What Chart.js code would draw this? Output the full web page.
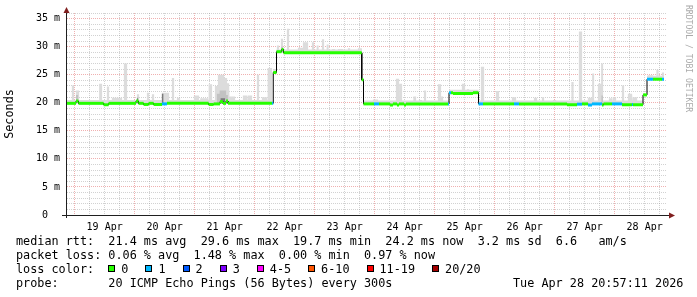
<!DOCTYPE html>
<html>
<head>
<meta charset="utf-8">
<script src="https://cdn.jsdelivr.net/npm/chart.js@4.4.1/dist/chart.umd.min.js"></script>
<style>
  html, body { margin: 0; padding: 0; background: #fff; }
  #wrap { position: relative; width: 697px; height: 297px; overflow: hidden; }
  #wrap canvas { position: absolute; left: 0; top: 0; }
  .row { position: absolute; left: 16px; font: 11.8px "DejaVu Sans Mono", monospace; line-height: 14px; white-space: pre; color: #000; }
  .sw { display: inline-block; width: 7px; height: 7px; box-sizing: border-box; border: 1px solid #000; margin-right: 6px; vertical-align: 1px; }
  .it { margin-right: 17px; }
  #credit { position: absolute; left: 684px; top: 5px; writing-mode: vertical-rl; font: 8.1px "DejaVu Sans Mono", monospace; line-height: 9px; color: #aaa; white-space: pre; }
</style>
</head>
<body>
<div id="wrap">
  <canvas id="chart" width="697" height="297"></canvas>
  <div class="row" id="rowRtt" style="top:234px"></div>
  <div class="row" id="rowLoss" style="top:248px"></div>
  <div class="row" id="rowColor" style="top:262px"></div>
  <div class="row" id="rowProbe" style="top:276px"></div>
  <div class="row" id="stamp" style="top:276px; left:513px"></div>
  <div id="credit">RRDTOOL / TOBI OETIKER</div>
</div>
<script>
// ---- data (time = hours since 18 Apr 00:00, values in ms) ----
const timeStart = 20.95;
const timeEnd = 260.95;
const dayLabels = ['19 Apr', '20 Apr', '21 Apr', '22 Apr', '23 Apr', '24 Apr', '25 Apr', '26 Apr', '27 Apr', '28 Apr'];

// median rtt: [from, to, ms, lost pings]
const medianSteps = [
  [20.95, 24.55, 19.9, 0], [24.55, 25.55, 20.3, 0], [25.55, 35.6, 19.9, 0],
  [35.6, 37.6, 19.65, 0], [37.6, 48.55, 19.9, 0], [48.55, 49.55, 20.3, 0],
  [49.55, 51.6, 19.9, 0], [51.6, 53.6, 19.7, 0], [53.6, 55.6, 19.9, 0],
  [55.6, 58.95, 19.7, 0], [58.95, 60.95, 19.8, 1], [60.95, 77.6, 19.9, 0],
  [77.6, 79.6, 19.7, 0], [79.6, 82.15, 19.8, 0], [82.15, 83.35, 20.2, 0],
  [83.35, 84.55, 19.9, 0], [84.55, 85.35, 20.3, 0], [85.35, 102.95, 19.9, 0],
  [102.95, 103.45, 19.9, 1], [103.45, 104.75, 25.4, 0], [104.75, 106.8, 29.1, 0],
  [106.8, 107.55, 29.5, 0], [107.55, 138.85, 28.9, 0], [138.85, 139.55, 24.1, 0],
  [139.55, 143.75, 19.8, 0], [143.75, 145.75, 19.8, 1], [145.75, 150.15, 19.8, 0],
  [150.15, 151.35, 19.6, 0], [151.35, 152.95, 19.8, 0], [152.95, 153.75, 19.6, 0],
  [153.75, 155.75, 19.8, 0], [155.75, 156.55, 19.6, 0], [156.55, 173.35, 19.8, 0],
  [173.35, 173.75, 19.8, 1], [173.75, 174.55, 21.8, 1], [174.55, 175.35, 21.8, 0],
  [175.35, 183.35, 21.65, 0], [183.35, 185.55, 21.8, 0], [185.55, 187.35, 19.8, 1],
  [187.35, 199.75, 19.8, 0], [199.75, 201.75, 19.8, 1], [201.75, 220.95, 19.8, 0],
  [220.95, 224.95, 19.65, 0], [224.95, 226.95, 19.75, 1], [226.95, 229.35, 19.8, 0],
  [229.35, 230.95, 19.6, 1], [230.95, 234.95, 19.8, 1], [234.95, 235.55, 19.6, 0],
  [235.55, 238.95, 19.8, 0], [238.95, 242.95, 19.8, 1], [242.95, 246.95, 19.65, 0],
  [246.95, 247.35, 19.7, 1], [247.35, 251.35, 19.65, 0], [251.35, 252.95, 21.4, 0],
  [252.95, 255.35, 24.2, 1], [255.35, 258.95, 24.2, 0], [258.95, 259.75, 24.2, 1]
];

// smoke: [from, to, low ms, high ms]
const smokeBand = [
  [20.95, 102.95, 19.9, 20.5], [103.45, 104.75, 25.4, 26.0], [104.75, 138.85, 28.9, 29.5],
  [139.55, 173.75, 19.8, 20.4], [173.75, 185.55, 21.7, 22.3], [185.55, 251.35, 19.8, 20.4],
  [252.95, 259.75, 24.2, 24.8]
];
const smokeLight = [
  [22.8, 23.8, 19.9, 23.1], [24.5, 25.8, 19.9, 22.2], [33.8, 35.0, 19.9, 23.4],
  [36.9, 37.8, 19.9, 22.9], [38.9, 43.0, 19.9, 20.9], [43.7, 45.0, 19.9, 27.0],
  [48.9, 49.8, 19.9, 21.5], [52.9, 53.8, 19.9, 21.8], [54.9, 55.8, 19.9, 21.5],
  [58.9, 61.8, 19.9, 21.8], [62.9, 63.8, 19.9, 24.4], [64.9, 66.2, 19.9, 20.9],
  [71.7, 73.8, 19.9, 21.3], [74.2, 77.4, 19.9, 20.8], [77.7, 79.0, 19.9, 23.3],
  [80.1, 81.3, 19.9, 23.0], [81.3, 83.8, 19.9, 25.0], [83.8, 85.0, 19.9, 24.4],
  [85.0, 85.8, 19.9, 23.5], [86.1, 88.2, 19.9, 21.1], [91.3, 93.0, 19.9, 21.3],
  [93.3, 95.0, 19.9, 21.3], [96.9, 97.8, 19.9, 25.0], [98.9, 101.0, 19.9, 21.0],
  [101.3, 103.0, 19.9, 26.2], [104.9, 105.8, 28.9, 30.2], [106.5, 107.4, 28.9, 31.4],
  [108.9, 109.8, 28.9, 33.2], [113.3, 115.3, 28.9, 29.8], [115.3, 117.4, 28.9, 30.8],
  [118.9, 119.8, 28.9, 30.8], [120.8, 121.6, 28.9, 30.2], [122.9, 123.8, 28.9, 31.3],
  [124.8, 125.6, 28.9, 30.4], [126.9, 128.2, 28.9, 29.6], [129.3, 131.4, 28.9, 29.6],
  [133.3, 134.2, 28.9, 29.7], [137.3, 138.9, 28.9, 29.7], [143.3, 145.4, 19.8, 20.6],
  [152.5, 153.8, 19.8, 24.3], [153.9, 155.0, 19.8, 23.4], [159.5, 160.6, 19.8, 21.1],
  [161.7, 163.0, 19.8, 20.5], [163.7, 164.6, 19.8, 22.2], [169.3, 170.6, 19.8, 23.3],
  [170.6, 171.4, 19.8, 21.1], [178.9, 180.2, 21.7, 23.4], [180.9, 181.8, 21.7, 22.4],
  [186.5, 187.8, 19.8, 26.4], [192.5, 193.8, 19.8, 22.1], [198.9, 200.6, 19.8, 21.0],
  [207.7, 209.0, 19.8, 20.9], [210.9, 211.8, 19.8, 21.0], [215.3, 216.6, 19.8, 20.5],
  [222.7, 223.6, 19.8, 23.7], [225.7, 227.0, 19.8, 32.7], [229.3, 231.0, 19.8, 20.9],
  [231.0, 231.8, 19.8, 25.2], [233.3, 234.6, 19.8, 23.4], [234.6, 235.4, 19.8, 27.0],
  [237.7, 239.0, 19.8, 20.8], [239.3, 240.6, 19.8, 21.0], [242.9, 243.8, 19.8, 23.1],
  [245.3, 247.0, 19.8, 21.6], [247.3, 249.0, 19.8, 21.0], [253.3, 255.4, 24.2, 24.9],
  [256.7, 257.6, 24.2, 25.9], [258.9, 259.75, 24.2, 25.4]
];
const smokeMid = [
  [24.5, 25.4, 20.0, 21.4], [48.9, 49.5, 20.0, 21.0], [80.9, 82.0, 19.9, 21.6],
  [82.0, 84.6, 19.9, 22.2], [84.6, 85.3, 19.9, 21.4], [106.6, 107.4, 29.0, 30.0],
  [234.7, 235.3, 19.8, 21.3]
];
const smokeDark = [
  [48.9, 49.3, 19.9, 20.8], [58.9, 59.5, 19.9, 21.6], [82.4, 84.2, 19.9, 20.8]
];

const lossColors = ['#26ff00', '#00b8ff', '#0059ff', '#7e00ff', '#ff00ff', '#ff5500', '#ff0000', '#a10000'];
const lossLabels = ['0', '1', '2', '3', '4-5', '6-10', '11-19', '20/20'];
const rttStats = ['21.4 ms avg', '29.6 ms max', '19.7 ms min', '24.2 ms now', '3.2 ms sd', '6.6   am/s'];
const lossStats = ['0.06 % avg', '1.48 % max', '0.00 % min', '0.97 % now'];
const probeText = '20 ICMP Echo Pings (56 Bytes) every 300s';
const stampText = 'Tue Apr 28 20:57:11 2026';

// ---- styles ----
const MONO = '"DejaVu Sans Mono", monospace';
const GRID = 'rgba(143,143,143,0.4)';
const MGRID = 'rgba(222,79,79,0.45)';
const AXIS = '#1f1f1f';
const ARROW = '#801f1f';

const lossIndex = l => l <= 3 ? l : l <= 5 ? 4 : l <= 10 ? 5 : l <= 19 ? 6 : 7;

// median line points: two per step, vertical joins between steps
const medPts = [];
medianSteps.forEach(([a, b, v, l]) => {
  medPts.push({ x: a, y: v, loss: l }, { x: b, y: v, loss: l });
});

// smoke rectangles as a top outline filled down to a base outline
function smokeLines(list) {
  const top = [], base = [];
  list.forEach(([a, b, lo, hi]) => {
    top.push({ x: a, y: lo }, { x: a, y: hi }, { x: b, y: hi }, { x: b, y: lo });
    base.push({ x: a, y: lo }, { x: a, y: lo }, { x: b, y: lo }, { x: b, y: lo });
  });
  return [top, base];
}

function smokePair(list, color) {
  const [top, base] = smokeLines(list);
  return [
    { data: top, borderWidth: 0, borderColor: 'transparent', backgroundColor: color, fill: '+1', pointRadius: 0 },
    { data: base, borderWidth: 0, borderColor: 'transparent', fill: false, pointRadius: 0 }
  ];
}

const xGrid = [];
for (let h = 24; h < timeEnd; h += 6) xGrid.push(h);
const yGrid = [];
for (let v = 0; v <= 36; v++) yGrid.push(v);

const axesPlugin = {
  id: 'rrdAxes',
  afterDraw(chart) {
    const { ctx, chartArea: a } = chart;
    ctx.save();
    ctx.strokeStyle = AXIS;
    ctx.lineWidth = 1;
    ctx.beginPath();
    ctx.moveTo(a.left - 5, a.bottom + 0.5);
    ctx.lineTo(a.right + 3, a.bottom + 0.5);
    ctx.moveTo(a.left - 0.5, a.bottom + 3);
    ctx.lineTo(a.left - 0.5, a.top - 2);
    ctx.stroke();
    ctx.fillStyle = ARROW;
    ctx.beginPath();
    ctx.moveTo(a.left - 0.5, a.top - 6);
    ctx.lineTo(a.left - 3.5, a.top);
    ctx.lineTo(a.left + 2.5, a.top);
    ctx.closePath();
    ctx.fill();
    ctx.beginPath();
    ctx.moveTo(a.right + 8, a.bottom + 0.5);
    ctx.lineTo(a.right + 2, a.bottom - 2.5);
    ctx.lineTo(a.right + 2, a.bottom + 3.5);
    ctx.closePath();
    ctx.fill();
    ctx.restore();
  }
};

Chart.defaults.font.family = MONO;
Chart.defaults.color = '#000';

new Chart(document.getElementById('chart'), {
  type: 'line',
  data: {
    datasets: [
      {
        data: medPts, borderWidth: 3, pointRadius: 0, fill: false, borderCapStyle: 'butt',
        segment: {
          borderColor: c => c.p0DataIndex % 2 === 1 ? 'rgba(0,0,0,0)' :
            lossColors[lossIndex(medPts[c.p0DataIndex].loss)]
        }
      },
      { data: medPts, borderWidth: 1, borderColor: '#000', pointRadius: 0, fill: false },
      ...smokePair(smokeDark, '#7a7a7a'),
      ...smokePair(smokeMid, '#c2c2c2'),
      ...smokePair(smokeLight, '#dcdcdc'),
      ...smokePair(smokeBand, '#dcdcdc')
    ]
  },
  options: {
    responsive: false,
    devicePixelRatio: 1,
    animation: false,
    layout: { padding: { left: 0, right: 30, top: 13, bottom: 0 } },
    plugins: { legend: { display: false }, tooltip: { enabled: false } },
    elements: { line: { tension: 0 } },
    scales: {
      x: {
        type: 'linear', min: timeStart, max: timeEnd,
        afterBuildTicks: s => { s.ticks = xGrid.map(v => ({ value: v })); },
        afterFit: s => { s.height = 82; },
        grid: { color: c => (c.tick && c.tick.value % 24 === 0) ? MGRID : GRID, lineWidth: 1, drawTicks: false },
        border: { display: false, dash: [1, 1] },
        ticks: {
          autoSkip: false, maxRotation: 0, padding: 6, font: { size: 10 },
          callback: v => v % 24 === 12 ? dayLabels[(v - 36) / 24] : ''
        }
      },
      y: {
        type: 'linear', min: 0, max: 36,
        afterBuildTicks: s => { s.ticks = yGrid.map(v => ({ value: v })); },
        afterFit: s => { s.width = 67; },
        grid: { color: c => (c.tick && c.tick.value % 5 === 0) ? MGRID : GRID, lineWidth: 1, drawTicks: false },
        border: { display: false, dash: [1, 1] },
        ticks: {
          autoSkip: false, padding: 7, font: { size: 10 },
          callback: v => v % 5 ? '' : (v ? v + ' m' : '0  ')
        },
        title: { display: true, text: 'Seconds', font: { size: 11.8 }, padding: { top: 3, bottom: 0 } }
      }
    }
  },
  plugins: [axesPlugin]
});

// ---- legend text ----
document.getElementById('rowRtt').textContent = 'median rtt:  ' + rttStats.join('  ');
document.getElementById('rowLoss').textContent = 'packet loss: ' + lossStats.join('  ');
const rowColor = document.getElementById('rowColor');
rowColor.appendChild(document.createTextNode('loss color:  '));
lossLabels.forEach((lab, i) => {
  const sw = document.createElement('span');
  sw.className = 'sw';
  sw.style.background = lossColors[i];
  rowColor.appendChild(sw);
  const t = document.createElement('span');
  t.className = 'it';
  t.textContent = lab;
  rowColor.appendChild(t);
});
document.getElementById('rowProbe').textContent = 'probe:       ' + probeText;
document.getElementById('stamp').textContent = stampText;
</script>
</body>
</html>
